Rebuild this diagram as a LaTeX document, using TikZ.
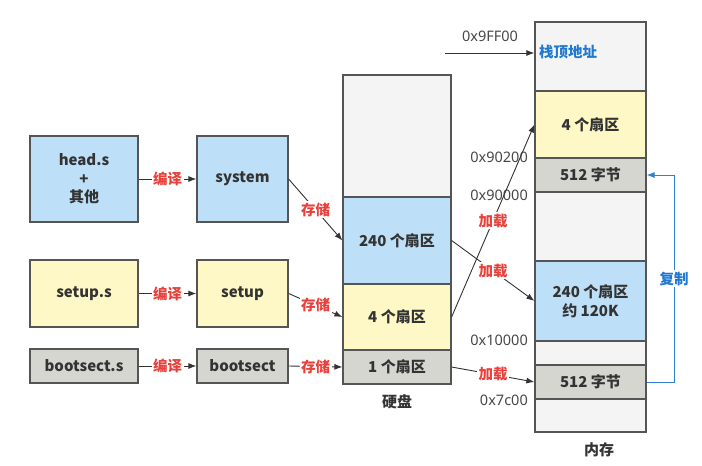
\documentclass[tikz,border=0pt]{standalone}
\usepackage{fontspec}
\setmainfont{Noto Sans CJK SC}
\newfontfamily\addrfont{Noto Sans}
\usetikzlibrary{arrows.meta}
\definecolor{cblue}{HTML}{BDDFF7}
\definecolor{cyel}{HTML}{FEF8C6}
\definecolor{cgray}{HTML}{D6D6D0}
\definecolor{cempty}{HTML}{F4F4F4}
\definecolor{cedge}{HTML}{555555}
\definecolor{ctext}{HTML}{333333}
\definecolor{cred}{HTML}{E8403A}
\definecolor{cbluetxt}{HTML}{1F78D1}
\definecolor{cline}{HTML}{2F80D0}
\tikzset{
  blk/.style={draw=cedge, line width=1.2pt, text=ctext, font=\fontsize{15}{18.5}\selectfont\bfseries, align=center, inner sep=0pt, minimum width=#1},
  bluebox/.style={blk=108pt, fill=cblue},
  yelbox/.style={blk=108pt, fill=cyel},
  graybox/.style={blk=108pt, fill=cgray},
  arr/.style={draw=ctext, line width=0.9pt, -{Latex[length=8pt,width=6pt]}},
  redlab/.style={fill=white, text=cred, font=\fontsize{14.5}{16}\selectfont\bfseries, inner sep=1.5pt},
  addr/.style={text=ctext!90, font=\addrfont\fontsize{14.5}{16}\selectfont, anchor=east, inner sep=0pt},
}
\begin{document}
\begin{tikzpicture}[x=1pt,y=-1pt]
\useasboundingbox (0,0) rectangle (702,466);
% left column
\node[bluebox, minimum width=108pt, minimum height=86pt] (head) at (84,179) {head.s\\+\\其他};
\node[bluebox, minimum width=91pt, minimum height=86pt] (sys) at (242.5,179) {system};
\node[yelbox, minimum width=108pt, minimum height=67pt] (setups) at (84,293.5) {setup.s};
\node[yelbox, minimum width=91pt, minimum height=67pt] (setup) at (242.5,293.5) {setup};
\node[graybox, minimum width=108pt, minimum height=34pt] (boots) at (84,366) {bootsect.s};
\node[graybox, minimum width=91pt, minimum height=34pt] (boot) at (242.5,366) {bootsect};
% disk
\node[blk=108pt, fill=cempty, minimum height=122pt] (dtop) at (397,136) {};
\node[bluebox, minimum height=87pt] (dblue) at (397,240.5) {240 个扇区};
\node[yelbox, minimum height=66pt] (dyel) at (397,317) {4 个扇区};
\node[graybox, minimum height=34pt] (dgray) at (397,367) {1 个扇区};
\node[text=ctext, font=\fontsize{15}{16}\selectfont\bfseries] (disklab) at (397,402) {硬盘};
% memory
\node[blk=111pt, fill=cempty, minimum height=69pt] (mtop) at (590.5,56.5) {};
\node[blk=111pt, fill=cyel, minimum height=67pt] (myel) at (590.5,124.5) {4 个扇区};
\node[blk=111pt, fill=cgray, minimum height=34pt] (mgray1) at (590.5,175) {512 字节};
\node[blk=111pt, fill=cempty, minimum height=69pt] (memp1) at (590.5,226.5) {};
\node[blk=111pt, fill=cblue, minimum height=80pt] (mblue) at (590.5,301) {240 个扇区\\约 120K};
\node[blk=111pt, fill=cempty, minimum height=24pt] (memp2) at (590.5,353) {};
\node[blk=111pt, fill=cgray, minimum height=34pt] (mgray2) at (590.5,382) {512 字节};
\node[blk=111pt, fill=cempty, minimum height=33pt] (memp3) at (590.5,415.5) {};
\node[text=ctext, font=\fontsize{15}{16}\selectfont\bfseries] (memlab) at (599,450) {内存};
\node[anchor=west, text=cbluetxt, font=\fontsize{14.5}{16}\selectfont\bfseries, inner sep=0pt] (stk) at (539,52) {栈顶地址};
% compile arrows
\draw[arr] (head.east) -- node[redlab]{编译} (sys.west);
\draw[arr] (setups.east) -- node[redlab]{编译} (setup.west);
\draw[arr] (boots.east) -- node[redlab]{编译} (boot.west);
% store arrows
\draw[arr] (sys.east) -- node[redlab]{存储} (dblue.west);
\draw[arr] (setup.east) -- node[redlab]{存储} (dyel.west);
\draw[arr] (boot.east) -- node[redlab]{存储} (dgray.west);
% addresses
\node[addr] (a1) at (528,157) {0x90200};
\node[addr] (a2) at (528,195) {0x90000};
\node[addr] (a3) at (528,340) {0x10000};
\node[addr] (a4) at (528,400) {0x7c00};
\node[addr, anchor=center] (a0) at (490,36) {0x9FF00};
% load arrows
\draw[arr] (dyel.east) -- node[redlab]{加载} (myel.west);
\draw[arr] (dblue.east) -- node[redlab]{加载} (mblue.west);
\draw[arr] (dgray.east) -- node[redlab]{加载} (mgray2.west);
% stack top
\coordinate (s0) at (445,53);
\draw[arr] (s0) -- (s0 -| mtop.west);
% copy
\coordinate (c1) at (674,382);
\draw[draw=cline, line width=0.9pt, -{Latex[length=8pt,width=6pt]}] (mgray2.east) -- (c1) -- node[fill=white, text=cbluetxt, font=\fontsize{14.5}{16}\selectfont\bfseries, inner sep=2pt, pos=0.5]{复制} (c1 |- mgray1.east) -- (mgray1.east);
\end{tikzpicture}
\end{document}
